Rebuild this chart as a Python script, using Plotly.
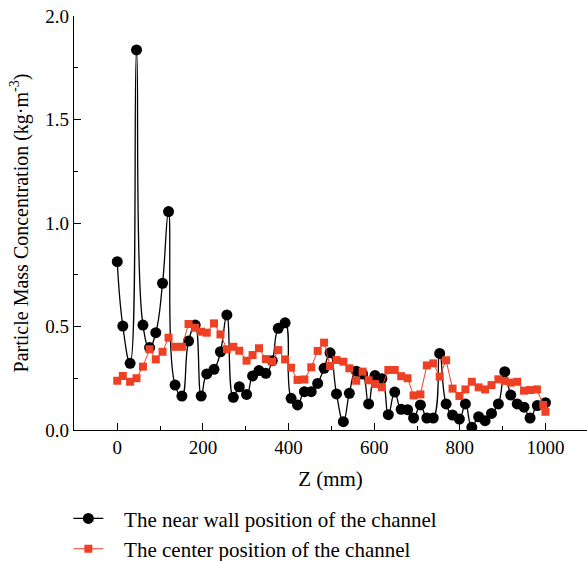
import plotly.graph_objects as go

# Axial positions (mm) of the sampling points
z_wall = [0, 13, 30, 45, 60, 75.5, 90, 105.8, 119.8, 135, 151, 166.5, 182, 196,
          209, 226, 241, 256, 271, 285, 302, 316, 331, 347, 362, 376, 392, 406,
          421, 437, 453, 468, 483, 497, 512, 528, 542, 558, 573, 587, 602, 618,
          633, 648, 663, 678, 692, 708, 723, 738, 753, 768, 783, 799, 813, 828,
          844, 859, 874, 890, 905, 919, 934, 950, 964, 981, 1000]

# Particle mass concentration near the wall (kg/m3)
c_wall = [0.813, 0.502, 0.322, 1.836, 0.507, 0.398, 0.47, 0.709, 1.055, 0.217,
          0.164, 0.43, 0.507, 0.164, 0.271, 0.293, 0.378, 0.556, 0.158, 0.209,
          0.172, 0.261, 0.287, 0.274, 0.335, 0.491, 0.518, 0.153, 0.121, 0.185,
          0.185, 0.225, 0.298, 0.373, 0.174, 0.04, 0.177, 0.284, 0.27, 0.126,
          0.263, 0.248, 0.074, 0.183, 0.1, 0.098, 0.058, 0.121, 0.058, 0.058,
          0.37, 0.126, 0.072, 0.053, 0.126, 0.013, 0.064, 0.045, 0.08, 0.126,
          0.282, 0.169, 0.126, 0.11, 0.058, 0.118, 0.132]

z_center = [0, 13, 30, 45, 60, 75.5, 90, 105.8, 119.8, 135, 151, 166.5, 182, 196,
            209, 226, 241, 256, 271, 285, 302, 316, 331, 347, 362, 376, 392, 406,
            421, 437, 453, 468, 483, 497, 512, 528, 542, 558, 573, 587, 602, 618,
            633, 648, 663, 678, 692, 708, 723, 738, 753, 768, 783, 799, 813, 828,
            844, 859, 874, 890, 905, 919, 934, 950, 964, 980, 995, 1000]

# Particle mass concentration at the channel centre (kg/m3)
c_center = [0.238, 0.261, 0.233, 0.25, 0.306, 0.39, 0.341, 0.378, 0.446, 0.402,
            0.402, 0.512, 0.494, 0.475, 0.47, 0.515, 0.462, 0.39, 0.402, 0.383,
            0.335, 0.362, 0.395, 0.343, 0.33, 0.386, 0.341, 0.301, 0.242, 0.244,
            0.303, 0.382, 0.422, 0.309, 0.338, 0.33, 0.298, 0.238, 0.282, 0.24,
            0.222, 0.207, 0.29, 0.29, 0.26, 0.25, 0.167, 0.172, 0.312, 0.322,
            0.258, 0.337, 0.2, 0.164, 0.196, 0.233, 0.206, 0.196, 0.217, 0.245,
            0.237, 0.229, 0.233, 0.19, 0.193, 0.196, 0.121, 0.088]

x_ticks = [0, 200, 400, 600, 800, 1000]
y_ticks = [0.0, 0.5, 1.0, 1.5, 2.0]

FONT = "Liberation Serif"
RED = "rgb(238,64,36)"
PAD = "\u00a0\u00a0\u00a0"

fig = go.Figure()

fig.add_trace(go.Scatter(
    x=z_wall, y=c_wall, mode="lines+markers",
    name=PAD + "The near wall position of the channel",
    line=dict(color="black", width=1.3, shape="spline", smoothing=1.3),
    marker=dict(symbol="circle", size=11, color="black"),
))

fig.add_trace(go.Scatter(
    x=z_center, y=c_center, mode="lines+markers",
    name=PAD + "The center position of the channel",
    line=dict(color=RED, width=1),
    marker=dict(symbol="square", size=8, color=RED),
))

axis_common = dict(
    showline=True, linecolor="black", linewidth=1.3,
    ticks="inside", ticklen=7, tickwidth=1.2, tickcolor="black",
    showgrid=False, zeroline=False, mirror=False,
    tickfont=dict(family=FONT, size=19, color="black"),
)

fig.update_xaxes(
    range=[-101, 1097], tickvals=x_ticks,
    ticktext=[str(v) for v in x_ticks],
    minor=dict(ticks="inside", ticklen=4, dtick=100, tick0=0, tickcolor="black"),
    title=dict(text="Z (mm)", font=dict(family=FONT, size=21, color="black"), standoff=14),
    **axis_common,
)

fig.update_yaxes(
    range=[0, 2.0], tickvals=y_ticks,
    ticktext=[f"{v:.1f}" for v in y_ticks],
    minor=dict(ticks="inside", ticklen=4, dtick=0.25, tick0=0, tickcolor="black"),
    title=dict(text="Particle Mass Concentration (kg·m<sup>-3</sup>)",
               font=dict(family=FONT, size=20, color="black"), standoff=11),
    **axis_common,
)

fig.update_layout(
    width=587, height=561,
    margin=dict(l=74, r=0, t=16, b=131, autoexpand=False),
    plot_bgcolor="white", paper_bgcolor="white",
    font=dict(family=FONT, color="black"),
    legend=dict(
        x=-0.011, y=-0.165, xanchor="left", yanchor="top",
        font=dict(family=FONT, size=21, color="black"),
        itemwidth=30, tracegroupgap=0, bgcolor="rgba(0,0,0,0)",
    ),
    showlegend=True,
)

fig.write_html("out.html")
